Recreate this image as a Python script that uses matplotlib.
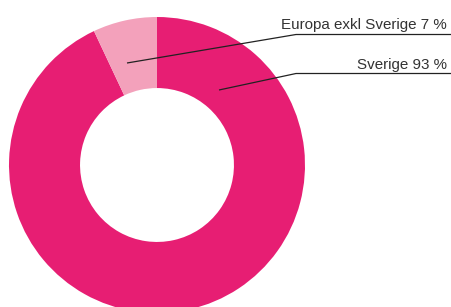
import matplotlib
matplotlib.use("Agg")
import matplotlib.pyplot as plt

categories = ["Sverige", "Europa exkl Sverige"]
shares = [93, 7]
labels = ["Sverige 93 %", "Europa exkl Sverige 7 %"]
colors = ["#E71E73", "#F3A1BB"]

W, H = 451, 307
fig = plt.figure(figsize=(W / 100, H / 100), dpi=100)
ax = fig.add_axes([0, 0, 1, 1])

cx, cy, R = 157, 142, 148
ax.pie(shares, colors=colors, startangle=90, counterclock=False,
       center=(cx, cy), radius=R, wedgeprops=dict(width=R * 0.48, linewidth=0))
ax.set_xlim(0, W)
ax.set_ylim(0, H)
ax.set_aspect("auto")
ax.axis("off")

# label layout: (leader start, knee y, text baseline y)
layout = {
    "Europa exkl Sverige": ((127, H - 63), H - 34.5, H - 29.5),
    "Sverige": ((219, H - 90), H - 73.5, H - 68.5),
}
knee_x = 296
for cat, lab in zip(categories, labels):
    (sx, sy), ky, ty = layout[cat]
    ax.plot([sx, knee_x, W], [sy, ky, ky], color="#222222", lw=0.9,
            solid_capstyle="butt")
    ax.text(447, ty, lab, ha="right", va="baseline", fontsize=10.9,
            family="Liberation Sans", color="#333333")

fig.savefig("out.png", dpi=100)
